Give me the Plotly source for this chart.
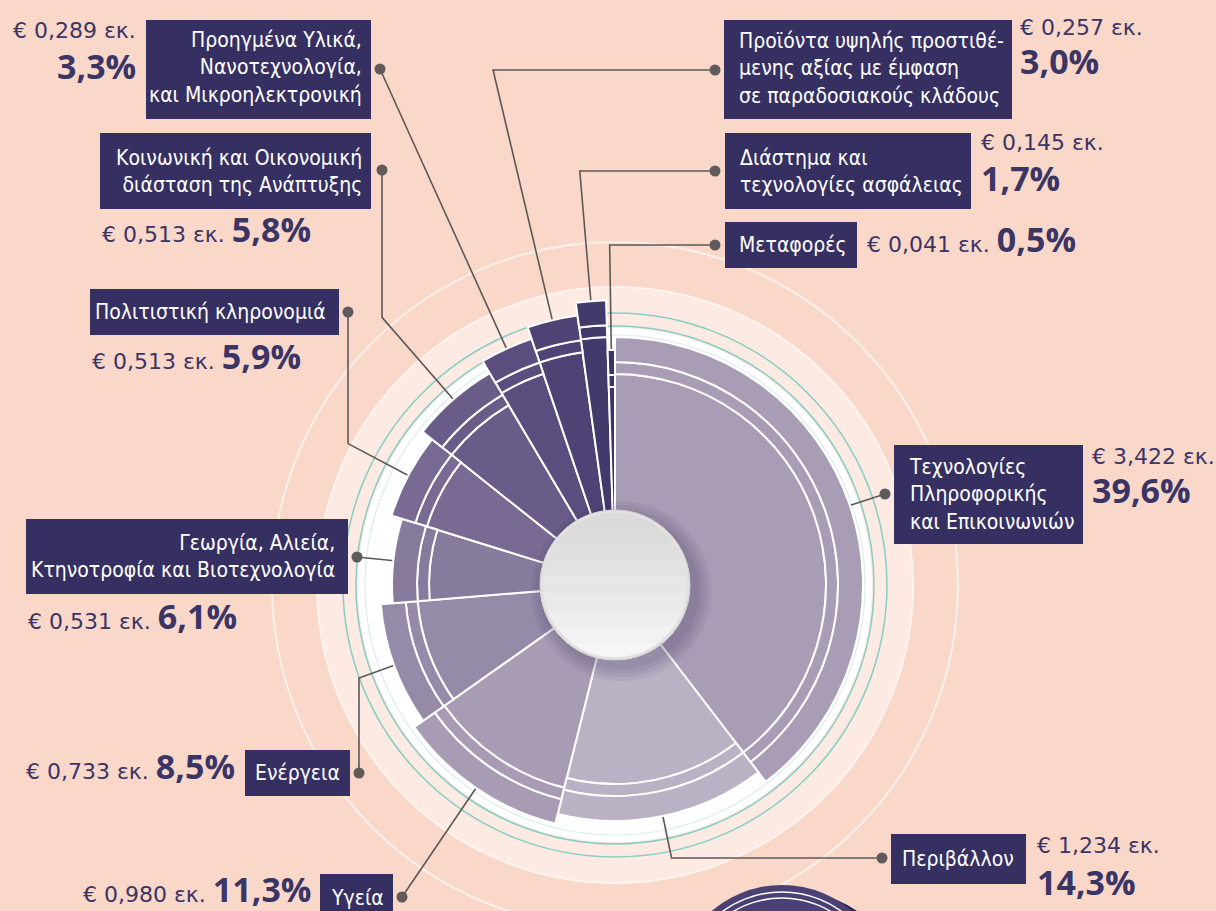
import math
import plotly.graph_objects as go

# --- data (read from the infographic) ---
categories = [
    "Τεχνολογίες<br>Πληροφορικής<br>και Επικοινωνιών",
    "Περιβάλλον",
    "Υγεία",
    "Ενέργεια",
    "Γεωργία, Αλιεία,<br>Κτηνοτροφία και Βιοτεχνολογία",
    "Πολιτιστική κληρονομιά",
    "Κοινωνική και Οικονομική<br>διάσταση της Ανάπτυξης",
    "Προηγμένα Υλικά,<br>Νανοτεχνολογία,<br>και Μικροηλεκτρονική",
    "Προϊόντα υψηλής προστιθέ-<br>μενης αξίας με έμφαση<br>σε παραδοσιακούς κλάδους",
    "Διάστημα και<br>τεχνολογίες ασφάλειας",
    "Μεταφορές",
]
shares = [39.6, 14.3, 11.3, 8.5, 6.1, 5.9, 5.8, 3.3, 3.0, 1.7, 0.5]
amounts = [3.422, 1.234, 0.980, 0.733, 0.531, 0.513, 0.513, 0.289, 0.257, 0.145, 0.041]
bar_radius = [248, 236, 246, 235, 223, 234, 246, 260, 272, 285, 235]
bar_colors = ["#a99db6", "#bab1c5", "#a89cb5", "#968aa9", "#877b9d", "#786a93",
              "#6a5c88", "#5b4e7f", "#4f4375", "#433a6c", "#3c3467"]

W, H = 1216, 911
CX, CY = 615, 585
R_AX = 300
BG = "#f9d8c9"
NAVY = "#363062"
TXT = "#3b3566"

# angles (clockwise from 12 o'clock)
theta, widths = [], []
acc = 0
for p in shares:
    theta.append((acc + p / 2) * 3.6)
    widths.append(p * 3.6)
    acc += p

fig = go.Figure()

# stacked rings of each segment: inner body, thin band, outer band
hole = 40
inner_len = [r - 37 - hole for r in bar_radius]
mid_base = [r - 37 for r in bar_radius]
out_base = [r - 25 for r in bar_radius]
for base, length in [([hole] * len(shares), inner_len),
                     (mid_base, [12] * len(shares)),
                     (out_base, [25] * len(shares))]:
    fig.add_trace(go.Barpolar(
        r=length, base=base, theta=theta, width=widths,
        marker=dict(color=bar_colors, line=dict(color="white", width=2)),
        hoverinfo="skip", showlegend=False))

# label placement: box, text anchor, dot, leader style, value text
# val: ("stack", anchor, x, y_amount, y_pct) or ("inline", anchor, x, y)
place = [
    dict(box=(894, 445, 1083, 544), txt=("left", 907, 494), dot=(885, 494), lead="direct",
         val=("stack", "left", 1090, 456, 490)),
    dict(box=(891, 834, 1026, 884), txt=("center", 958, 859), dot=(882, 858), lead="h",
         val=("stack", "left", 1035, 845, 882)),
    dict(box=(320, 874, 393, 930), txt=("center", 357, 898), dot=(402, 897), lead="direct",
         val=("inline", "right", 313, 889)),
    dict(box=(245, 750, 350, 796), txt=("center", 297, 773), dot=(359, 773), lead="v",
         val=("inline", "right", 237, 766)),
    dict(box=(26, 519, 348, 594), txt=("right", 337, 556), dot=(357, 557), lead="direct",
         val=("inline", "left", 26, 616)),
    dict(box=(90, 289, 339, 335), txt=("right", 328, 312), dot=(348, 312), lead="v",
         val=("inline", "left", 90, 356)),
    dict(box=(100, 133, 371, 209), txt=("right", 364, 171), dot=(382, 170), lead="v",
         val=("inline", "left", 100, 229)),
    dict(box=(146, 20, 371, 119), txt=("right", 364, 67), dot=(380, 69), lead="direct",
         val=("stack", "right", 138, 30, 66)),
    dict(box=(724, 20, 1012, 119), txt=("left", 737, 68), dot=(715, 70), lead="h",
         val=("stack", "left", 1018, 27, 61)),
    dict(box=(725, 133, 971, 209), txt=("left", 738, 171), dot=(715, 171), lead="h",
         val=("stack", "left", 979, 142, 178)),
    dict(box=(725, 222, 857, 268), txt=("left", 737, 245), dot=(715, 245), lead="h",
         val=("inline", "left", 865, 239)),
]

# leader lines from the segment edge outward
lx, ly = [], []
for i, pl in enumerate(place):
    a = math.radians(theta[i])
    ux, uy = math.sin(a), -math.cos(a)
    r0 = bar_radius[i] - 6
    px, py = CX + r0 * ux, CY + r0 * uy
    dx, dy = pl["dot"]
    pts = [(px, py)]
    if pl["lead"] == "h":
        t = (dy - py) / uy
        pts.append((px + t * ux, dy))
    elif pl["lead"] == "v":
        t = (dx - px) / ux
        pts.append((dx, py + t * uy))
    pts.append((dx, dy))
    lx += [p[0] for p in pts] + [None]
    ly += [p[1] for p in pts] + [None]

fig.add_trace(go.Scatter(x=lx, y=ly, mode="lines", line=dict(color="#5c5858", width=1.6),
                         hoverinfo="skip", showlegend=False, xaxis="x", yaxis="y"))
fig.add_trace(go.Scatter(x=[p["dot"][0] for p in place], y=[p["dot"][1] for p in place],
                         mode="markers", marker=dict(size=11, color="#5f5b5b"),
                         hoverinfo="skip", showlegend=False, xaxis="x", yaxis="y"))

shapes = []


def circle(r, cx=CX, cy=CY, **kw):
    d = dict(type="circle", xref="x", yref="y", x0=cx - r, x1=cx + r, y0=cy - r, y1=cy + r)
    d.update(kw)
    return d


def lower_cap(r, ycut, cx=CX, cy=CY, n=48):
    s = max(-1.0, min(1.0, (ycut - cy) / r))
    t0 = math.asin(s)
    t1 = math.pi - t0
    pts = []
    for k in range(n + 1):
        t = t0 + (t1 - t0) * k / n
        pts.append((cx + r * math.cos(t), cy + r * math.sin(t)))
    return "M " + " L ".join(f"{x:.2f},{y:.2f}" for x, y in pts) + " Z"


# background decoration
shapes.append(circle(343, fillcolor="rgba(0,0,0,0)", line=dict(color="#fbefea", width=2), layer="below"))
shapes.append(circle(298, fillcolor="#fdeae2", line=dict(color="#fdf3ef", width=2), layer="below"))
shapes.append(circle(272, fillcolor="rgba(0,0,0,0)", line=dict(color="#86cec3", width=1.5), layer="below"))
shapes.append(circle(259, fillcolor="rgba(0,0,0,0)", line=dict(color="#86cec3", width=1.5), layer="below"))
shapes.append(circle(257, fillcolor="white", line=dict(width=0), layer="below"))
shapes.append(circle(250, fillcolor="rgba(0,0,0,0)", line=dict(color="#dceeec", width=1.2), layer="below"))

# partial navy element at the bottom edge
shapes.append(circle(108, cx=796, cy=1000, fillcolor="#2d2850", line=dict(width=0), layer="below"))
shapes.append(circle(108, cx=782, cy=993, fillcolor="#4b4073", line=dict(width=0), layer="below"))
shapes.append(circle(101, cx=782, cy=993, fillcolor="rgba(0,0,0,0)", line=dict(color="white", width=1.5), layer="below"))
shapes.append(circle(95, cx=782, cy=993, fillcolor="rgba(0,0,0,0)", line=dict(color="white", width=1.5), layer="below"))

# central disc with soft shadow and vertical shading
for rr in [90, 86, 82, 78]:
    shapes.append(circle(rr, cx=CX + 6, cy=CY + 6, fillcolor="rgba(60,45,85,0.07)",
                         line=dict(width=0), layer="above"))
R0 = 75
shapes.append(circle(R0, fillcolor="#dadada", line=dict(width=0), layer="above"))
shade = ["#dcdcdc", "#dfdfdf", "#e2e2e2", "#e6e6e6", "#eaeaea", "#eeeeee", "#f2f2f2", "#f6f6f6"]
for k, col in enumerate(shade):
    ycut = CY - R0 + (k + 1) * 2 * R0 / (len(shade) + 1)
    shapes.append(dict(type="path", xref="x", yref="y", path=lower_cap(R0, ycut),
                       fillcolor=col, line=dict(width=0), layer="above"))
shapes.append(circle(R0 - 1.5, fillcolor="rgba(0,0,0,0)", line=dict(color="#e3e1e1", width=3), layer="above"))
shapes.append(circle(R0, fillcolor="rgba(0,0,0,0)", line=dict(color="#cfcccc", width=1), layer="above"))

# label boxes
for pl in place:
    x0, y0, x1, y1 = pl["box"]
    shapes.append(dict(type="rect", xref="x", yref="y", x0=x0, x1=x1, y0=y0, y1=y1,
                       fillcolor=NAVY, line=dict(width=0), layer="above"))

LABEL_FONT = "DejaVu Sans Condensed, Roboto Condensed, Liberation Sans Narrow, Roboto, sans-serif"
AMT_FONT = "DejaVu Sans, Verdana, sans-serif"
PCT_FONT = "Open Sans, Lato, sans-serif"
PCT_SPAN = "<b><span style='font-family:\"Open Sans\";font-size:34px'>{}</span></b>"

annotations = []
for i, pl in enumerate(place):
    align, tx, ty = pl["txt"]
    annotations.append(dict(x=tx, y=ty, xref="x", yref="y", text=categories[i], showarrow=False,
                            xanchor=align, yanchor="middle", align=align,
                            font=dict(family=LABEL_FONT, size=21, color="white")))
    amt = "€ " + f"{amounts[i]:.3f}".replace(".", ",") + " εκ."
    pct = f"{shares[i]:.1f}".replace(".", ",") + "%"
    v = pl["val"]
    if v[0] == "stack":
        _, side, vx, y_a, y_p = v
        annotations.append(dict(x=vx, y=y_a, xref="x", yref="y", text=amt, showarrow=False,
                                xanchor=side, yanchor="middle",
                                font=dict(family=AMT_FONT, size=22, color=TXT)))
        annotations.append(dict(x=vx, y=y_p, xref="x", yref="y", text="<b>" + pct + "</b>",
                                showarrow=False, xanchor=side, yanchor="middle",
                                font=dict(family=PCT_FONT, size=34, color=TXT)))
    else:
        _, side, vx, vy = v
        annotations.append(dict(x=vx, y=vy, xref="x", yref="y",
                                text=amt + " " + PCT_SPAN.format(pct),
                                showarrow=False, xanchor=side, yanchor="middle",
                                font=dict(family=AMT_FONT, size=22, color=TXT)))

fig.update_layout(
    width=W, height=H, margin=dict(l=0, r=0, t=0, b=0),
    paper_bgcolor=BG, plot_bgcolor=BG, showlegend=False,
    xaxis=dict(range=[0, W], domain=[0, 1], visible=False, fixedrange=True),
    yaxis=dict(range=[H, 0], domain=[0, 1], visible=False, fixedrange=True),
    polar=dict(
        domain=dict(x=[(CX - R_AX) / W, (CX + R_AX) / W],
                    y=[(H - CY - R_AX) / H, (H - CY + R_AX) / H]),
        bgcolor="rgba(0,0,0,0)",
        radialaxis=dict(range=[0, R_AX], visible=False),
        angularaxis=dict(rotation=90, direction="clockwise", visible=False),
    ),
    shapes=shapes,
    annotations=annotations,
)

fig.write_html("out.html", config={"displayModeBar": False},
               post_script="document.body.style.margin='0px';")
